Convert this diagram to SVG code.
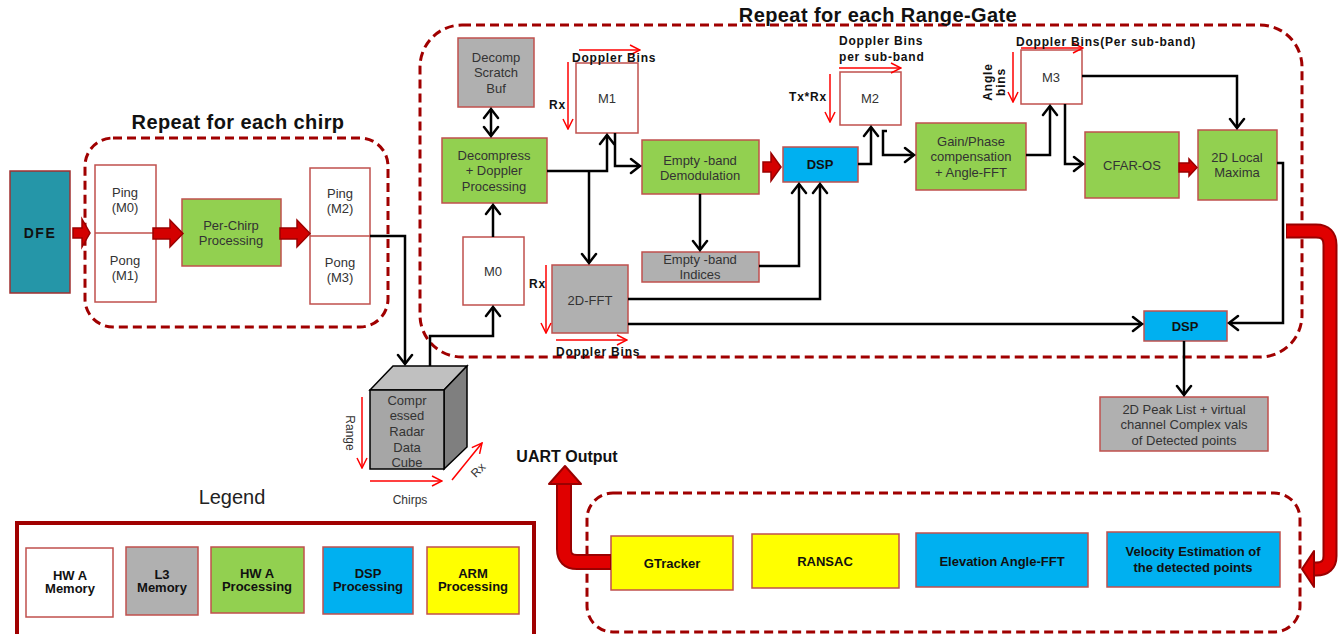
<svg xmlns="http://www.w3.org/2000/svg" width="1343" height="634" viewBox="0 0 1343 634">
  <style>
    text { font-family: "Liberation Sans", Arial, sans-serif; }
    .box { stroke: #c0504d; stroke-width: 1.5; }
    .mem { fill: #ffffff; }
    .l3 { fill: #b0b0b0; }
    .hwa { fill: #92d050; }
    .dsp { fill: #00b0f0; }
    .arm { fill: #ffff00; }
    .lbl { font-size: 13px; fill: #333333; text-anchor: middle; }
    .blbl { font-size: 13px; font-weight: bold; fill: #111111; text-anchor: middle; }
    .dim { font-size: 12px; font-weight: bold; fill: #111111; letter-spacing: 0.8px; }
    .title { font-size: 20px; font-weight: bold; fill: #111111; text-anchor: middle; letter-spacing: 0.4px; }
    .group { fill: none; stroke: #a00000; stroke-width: 3; stroke-dasharray: 9 5; }
    .conn { fill: none; stroke: #000000; stroke-width: 2.5; marker-end: url(#arrow); }
    .axis { fill: none; stroke: #ff0000; stroke-width: 1.5; marker-end: url(#redArrow); }
    .block { fill: #d40000; stroke: #9a0000; stroke-width: 1.5; }
  </style>
  <defs>
    <marker id="arrow" viewBox="-11 -9 13 18" markerWidth="13" markerHeight="18" refX="0" refY="0" orient="auto-start-reverse" markerUnits="userSpaceOnUse">
      <path d="M-9,-7 L0,0 L-9,7" fill="none" stroke="#000000" stroke-width="2.5" stroke-linecap="round" stroke-linejoin="miter"/>
    </marker>
    <marker id="redArrow" viewBox="-11 -7 12 14" markerWidth="12" markerHeight="14" refX="0" refY="0" orient="auto" markerUnits="userSpaceOnUse">
      <path d="M-10,-5 L0,0 L-10,5" fill="none" stroke="#ff0000" stroke-width="1.5"/>
    </marker>
  </defs>

  <rect width="1343" height="634" fill="#ffffff"/>

  <!-- grouping frames -->
  <g id="frames">
    <rect class="group" x="85" y="138" width="303" height="189" rx="28"/>
    <text class="title" x="238" y="129">Repeat for each chirp</text>
    <rect class="group" x="420" y="25" width="882" height="332" rx="42"/>
    <text class="title" x="878" y="22">Repeat for each Range-Gate</text>
    <rect class="group" x="587" y="493" width="713" height="139" rx="26"/>
  </g>

  <!-- processing nodes -->
  <g id="dfe">
    <rect x="10" y="171" width="60" height="122" fill="#2596a8" stroke="#a03030" stroke-width="1.5"/>
    <text x="40" y="238" font-size="14" font-weight="bold" fill="#111" text-anchor="middle" letter-spacing="1.5">DFE</text>
  </g>
  <g id="pingpong-m0-m1">
    <rect class="box mem" x="95" y="165" width="61" height="137"/>
    <line x1="95" y1="233" x2="156" y2="233" stroke="#c0504d" stroke-width="1.5"/>
    <text class="lbl" x="125" y="197">Ping</text>
    <text class="lbl" x="125" y="212">(M0)</text>
    <text class="lbl" x="125" y="265">Pong</text>
    <text class="lbl" x="125" y="280">(M1)</text>
  </g>
  <g id="per-chirp">
    <rect class="box hwa" x="182" y="199" width="99" height="67"/>
    <text class="lbl" x="231" y="230">Per-Chirp</text>
    <text class="lbl" x="231" y="245">Processing</text>
  </g>
  <g id="pingpong-m2-m3">
    <rect class="box mem" x="310" y="168" width="60" height="136"/>
    <line x1="310" y1="236" x2="370" y2="236" stroke="#c0504d" stroke-width="1.5"/>
    <text class="lbl" x="340" y="198">Ping</text>
    <text class="lbl" x="340" y="213">(M2)</text>
    <text class="lbl" x="340" y="267">Pong</text>
    <text class="lbl" x="340" y="282">(M3)</text>
  </g>
  <g id="radar-cube">
    <polygon points="370,390 393,366 467,366 444,390" fill="#c0c0c0" stroke="#000" stroke-width="1.5"/>
    <polygon points="444,390 467,366 467,447 444,469" fill="#7f7f7f" stroke="#000" stroke-width="1.5"/>
    <rect x="370" y="390" width="74" height="79" fill="#a6a6a6" stroke="#000" stroke-width="1.5"/>
    <text class="lbl" x="407" y="405">Compr</text>
    <text class="lbl" x="407" y="420">essed</text>
    <text class="lbl" x="407" y="436">Radar</text>
    <text class="lbl" x="407" y="452">Data</text>
    <text class="lbl" x="407" y="467">Cube</text>
    <line class="axis" x1="362" y1="397" x2="362" y2="468"/>
    <line class="axis" x1="370" y1="481" x2="442" y2="481"/>
    <line class="axis" x1="452" y1="480" x2="482" y2="443"/>
    <text x="0" y="0" font-size="12" fill="#333" text-anchor="middle" transform="translate(346,433) rotate(90)">Range</text>
    <text x="410" y="504" font-size="12" fill="#333" text-anchor="middle">Chirps</text>
    <text x="0" y="0" font-size="12" fill="#333" text-anchor="middle" transform="translate(481,473) rotate(-45)">Rx</text>
  </g>
  <g id="decomp-scratch">
    <rect class="box l3" x="458" y="38" width="76" height="69"/>
    <text class="lbl" x="496" y="62">Decomp</text>
    <text class="lbl" x="496" y="77">Scratch</text>
    <text class="lbl" x="496" y="93">Buf</text>
  </g>
  <g id="decompress">
    <rect class="box hwa" x="442" y="138" width="105" height="65"/>
    <text class="lbl" x="494" y="160">Decompress</text>
    <text class="lbl" x="494" y="175">+ Doppler</text>
    <text class="lbl" x="494" y="191">Processing</text>
  </g>
  <g id="m1">
    <rect class="box mem" x="576" y="63" width="62" height="70"/>
    <text class="lbl" x="607" y="103">M1</text>
    <line class="axis" x1="579" y1="50" x2="640" y2="50"/>
    <line class="axis" x1="568" y1="62" x2="568" y2="129"/>
    <text class="dim" x="572" y="62">Doppler Bins</text>
    <text class="dim" x="549" y="109">Rx</text>
  </g>
  <g id="m0">
    <rect class="box mem" x="463" y="237" width="61" height="68"/>
    <text class="lbl" x="493" y="276">M0</text>
  </g>
  <g id="demod">
    <rect class="box hwa" x="642" y="140" width="117" height="54"/>
    <text class="lbl" x="700" y="165">Empty -band</text>
    <text class="lbl" x="700" y="180">Demodulation</text>
  </g>
  <g id="eb-indices">
    <rect class="box l3" x="642" y="252" width="117" height="30"/>
    <text class="lbl" x="700" y="264">Empty -band</text>
    <text class="lbl" x="700" y="279">Indices</text>
  </g>
  <g id="fft2d">
    <rect class="box l3" x="552" y="265" width="76" height="68"/>
    <text class="lbl" x="590" y="305">2D-FFT</text>
    <line class="axis" x1="546" y1="265" x2="546" y2="333"/>
    <line class="axis" x1="556" y1="340" x2="627" y2="340"/>
    <text class="dim" x="529" y="288">Rx</text>
    <text class="dim" x="556" y="356">Doppler Bins</text>
  </g>
  <g id="dsp1">
    <rect class="box dsp" x="783" y="147" width="75" height="35"/>
    <text class="blbl" x="820" y="169">DSP</text>
  </g>
  <g id="m2">
    <rect class="box mem" x="840" y="72" width="61" height="53"/>
    <text class="lbl" x="870" y="103">M2</text>
    <line class="axis" x1="839" y1="68" x2="901" y2="68"/>
    <line class="axis" x1="830" y1="74" x2="830" y2="122"/>
    <text class="dim" x="839" y="45">Doppler Bins</text>
    <text class="dim" x="839" y="61">per sub-band</text>
    <text class="dim" x="789" y="101" letter-spacing="0">Tx*Rx</text>
  </g>
  <g id="gain-phase">
    <rect class="box hwa" x="916" y="123" width="110" height="67"/>
    <text class="lbl" x="971" y="146">Gain/Phase</text>
    <text class="lbl" x="971" y="161">compensation</text>
    <text class="lbl" x="971" y="177">+ Angle-FFT</text>
  </g>
  <g id="m3">
    <rect class="box mem" x="1021" y="50" width="61" height="54"/>
    <text class="lbl" x="1051" y="82">M3</text>
    <line class="axis" x1="1021" y1="48" x2="1083" y2="48"/>
    <line class="axis" x1="1013" y1="52" x2="1013" y2="102"/>
    <text class="dim" x="1016" y="46" letter-spacing="0.4">Doppler Bins(Per sub-band)</text>
    <text class="dim" x="0" y="0" text-anchor="middle" letter-spacing="0.3" transform="translate(992,82) rotate(-90)">Angle</text>
    <text class="dim" x="0" y="0" text-anchor="middle" letter-spacing="0.3" transform="translate(1005,82) rotate(-90)">bins</text>
  </g>
  <g id="cfar">
    <rect class="box hwa" x="1085" y="132" width="94" height="66"/>
    <text class="lbl" x="1132" y="170">CFAR-OS</text>
  </g>
  <g id="local-max">
    <rect class="box hwa" x="1198" y="130" width="79" height="70"/>
    <text class="lbl" x="1237" y="162">2D Local</text>
    <text class="lbl" x="1237" y="177">Maxima</text>
  </g>
  <g id="dsp2">
    <rect class="box dsp" x="1144" y="311" width="83" height="30"/>
    <text class="blbl" x="1185" y="331">DSP</text>
  </g>
  <g id="peak-list">
    <rect class="box l3" x="1100" y="397" width="168" height="54"/>
    <text class="lbl" x="1184" y="414">2D Peak List + virtual</text>
    <text class="lbl" x="1184" y="429">channel Complex vals</text>
    <text class="lbl" x="1184" y="445">of Detected points</text>
  </g>
  <g id="gtracker">
    <rect class="box arm" x="611" y="536" width="122" height="54"/>
    <text class="blbl" x="672" y="568" font-size="12">GTracker</text>
  </g>
  <g id="ransac">
    <rect class="box arm" x="752" y="534" width="147" height="54"/>
    <text class="blbl" x="825" y="566" font-size="12">RANSAC</text>
  </g>
  <g id="elevation-fft">
    <rect class="box dsp" x="916" y="533" width="172" height="54"/>
    <text class="blbl" x="1002" y="566" font-size="12">Elevation Angle-FFT</text>
  </g>
  <g id="velocity">
    <rect class="box dsp" x="1107" y="532" width="173" height="55"/>
    <text class="blbl" x="1193" y="556" font-size="12">Velocity Estimation of</text>
    <text class="blbl" x="1193" y="572" font-size="12">the detected points</text>
  </g>
  <text x="567" y="462" font-size="16" font-weight="bold" fill="#111" text-anchor="middle">UART  Output</text>

  <!-- connectors -->
  <g id="connectors">
    <polygon class="block" points="73,228 82,228 82,219 90,233 82,247 82,238 73,238"/>
    <polygon class="block" points="153,228 170,228 170,220 183,233.5 170,247 170,239 153,239"/>
    <polygon class="block" points="280,228 297,228 297,220 310,233.5 297,247 297,239 280,239"/>
    <polygon class="block" points="763,162 771,162 771,153 781,167 771,181 771,172 763,172"/>
    <polygon class="block" points="1179,163 1189,163 1189,159 1197,167.5 1189,176 1189,172 1179,172"/>

    <path class="conn" d="M370,236 H405 V364"/>
    <path class="conn" d="M430,366 V336 H493 V307"/>
    <path class="conn" d="M493,237 V205"/>
    <path class="conn" d="M491,136 V109" marker-start="url(#arrow)"/>
    <path class="conn" d="M547,171 H607 V135"/>
    <path class="conn" d="M589,171 V263"/>
    <path class="conn" d="M615,133 V166 H640"/>
    <path class="conn" d="M700,194 V250"/>
    <path class="conn" d="M759,266 H799 V184"/>
    <path class="conn" d="M628,299 H820 V184"/>
    <path class="conn" d="M628,324 H1142"/>
    <path class="conn" d="M858,164 H871 V127"/>
    <path class="conn" d="M887,131 H883 V155 H914"/>
    <path class="conn" d="M1026,155 H1050 V106"/>
    <path class="conn" d="M1082,76 H1237 V128"/>
    <path class="conn" d="M1065,104 V164 H1083"/>
    <path class="conn" d="M1277,163 H1283 V323 H1229"/>
    <path class="conn" d="M1184,341 V395"/>

    <!-- wide loop arrow to the tracking stage -->
    <path d="M1286,231 H1316 Q1330,231 1330,245 V556 Q1330,569 1316,569 H1312" fill="none" stroke="#9a0000" stroke-width="15"/>
    <path d="M1287,231 H1316 Q1330,231 1330,245 V556 Q1330,569 1316,569 H1311" fill="none" stroke="#e00000" stroke-width="11"/>
    <polygon points="1314,551 1302,569 1314,587" fill="#e00000" stroke="#9a0000" stroke-width="2" stroke-linejoin="round"/>

    <!-- output arrow -->
    <path d="M611,562 H577 Q564,562 564,549 V485" fill="none" stroke="#9a0000" stroke-width="16"/>
    <path d="M610,562 H577 Q564,562 564,549 V484" fill="none" stroke="#e00000" stroke-width="12"/>
    <polygon points="549,484 565,466 581,484" fill="#e00000" stroke="#9a0000" stroke-width="2" stroke-linejoin="round"/>
  </g>

  <!-- legend -->
  <g id="legend">
    <text x="232" y="504" font-size="20" fill="#222" text-anchor="middle">Legend</text>
    <rect x="17" y="523" width="517" height="120" fill="#ffffff" stroke="#a00000" stroke-width="4"/>
    <rect class="box mem" x="26" y="548" width="87" height="69"/>
    <text class="blbl" x="70" y="580" font-size="12">HW A</text>
    <text class="blbl" x="70" y="593" font-size="12">Memory</text>
    <rect class="box l3" x="126" y="547" width="72" height="68"/>
    <text class="blbl" x="162" y="579" font-size="12">L3</text>
    <text class="blbl" x="162" y="592" font-size="12">Memory</text>
    <rect class="box hwa" x="211" y="547" width="93" height="66"/>
    <text class="blbl" x="257" y="578" font-size="12">HW A</text>
    <text class="blbl" x="257" y="591" font-size="12">Processing</text>
    <rect class="box dsp" x="323" y="547" width="90" height="67"/>
    <text class="blbl" x="368" y="578" font-size="12">DSP</text>
    <text class="blbl" x="368" y="591" font-size="12">Processing</text>
    <rect class="box arm" x="427" y="547" width="92" height="67"/>
    <text class="blbl" x="473" y="578" font-size="12">ARM</text>
    <text class="blbl" x="473" y="591" font-size="12">Processing</text>
  </g>
</svg>
